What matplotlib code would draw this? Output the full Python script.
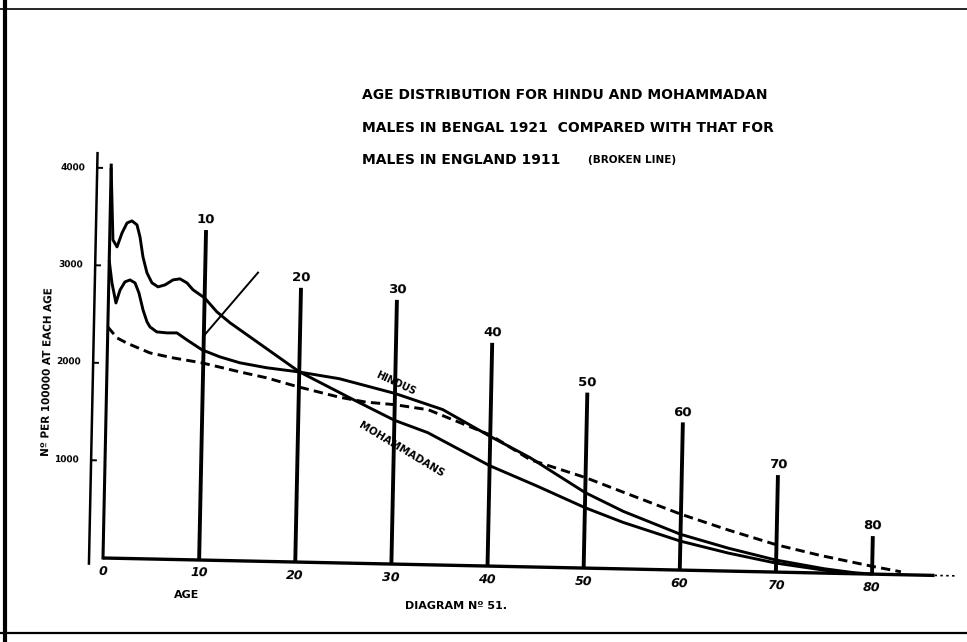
import matplotlib
matplotlib.use("Agg")
import matplotlib.pyplot as plt
from matplotlib.transforms import Affine2D
from matplotlib.lines import Line2D

# ---------------- data ----------------
moham_age = [0, 0.34, 0.78, 1.27, 1.77, 2.28, 2.81, 3.15, 3.5, 3.95, 4.49, 5.13, 5.86,
             6.68, 7.4, 8.13, 8.78, 10, 11.3, 12.7, 20, 25.3, 30, 33.5, 40, 45, 50, 54,
             60, 65, 70, 75, 78]
moham_val = [4000, 3264, 3193, 3337, 3441, 3463, 3423, 3300, 3096, 2933, 2832, 2792, 2814,
             2867, 2879, 2839, 2769, 2689, 2549, 2439, 1952, 1696, 1475, 1355, 1030, 830, 620, 477,
             297, 185, 92, 30, 8]

hindu_age = [0, 0.33, 0.79, 1.19, 1.68, 2.2, 2.73, 3.16, 3.62, 4.06, 4.38, 5.1, 6.17, 7.2,
             8.26, 9.84, 11.7, 13.8, 16.6, 19.8, 24.2, 30, 35, 40, 44.2, 50, 54, 60, 65, 70,
             75, 78, 80]
hindu_val = [3050, 2823, 2618, 2752, 2836, 2857, 2828, 2726, 2553, 2431, 2380, 2330, 2322, 2324,
             2254, 2156, 2088, 2031, 1986, 1952, 1889, 1750, 1595, 1330, 1120, 774, 590, 367, 235, 123,
             45, 12, 0]

england_age = [0, 0.98, 2.05, 4.44, 6.85, 9.87, 13.8, 16.6, 19.8, 24.2, 27, 30, 33.5, 40,
               44.2, 50, 54, 60, 65, 70, 74.5, 80, 83]
england_val = [2370, 2260, 2207, 2113, 2067, 2022, 1938, 1883, 1800, 1700, 1655, 1635, 1590, 1345,
               1100, 928, 785, 573, 420, 280, 182, 80, 30]

decade_ages = [10, 20, 30, 40, 50, 60, 70, 80]
decade_heights = [3385, 2813, 2710, 2290, 1800, 1515, 995, 390]
decade_labels = ["10", "20", "30", "40", "50", "60", "70", "80"]

xtick_ages = [0, 10, 20, 30, 40, 50, 60, 70, 80]
xtick_labels = ["0", "10", "20", "30", "40", "50", "60", "70", "80"]

ytick_vals = [1000, 2000, 3000, 4000]
ytick_labels = ["1000", "2000", "3000", "4000"]

pointer_age = [10, 15.5]
pointer_val = [2300, 2960]

title_lines = ["AGE DISTRIBUTION FOR HINDU AND MOHAMMADAN",
               "MALES IN BENGAL 1921  COMPARED WITH THAT FOR",
               "MALES IN ENGLAND 1911"]

# ---------------- figure / frame ----------------
W, H = 967, 642
fig = plt.figure(figsize=(W / 100, H / 100), dpi=100)
fig.patch.set_facecolor("white")
ax = fig.add_axes([0, 0, 1, 1])
ax.axis("off")

X0, Y0 = 103, 558          # pixel position of the origin in the picture
SX, SY = 9.615, 0.0975     # pixels per year, pixels per unit
ax.set_xlim(-X0 / SX, (W - X0) / SX)
ax.set_ylim((Y0 - H) / SY, Y0 / SY)

# the drawing is slightly tilted on the page
tilt = Affine2D().rotate_deg_around(X0, H - Y0, -1.2)
T = ax.transData + tilt

K = "black"
bold = dict(fontweight="bold", color=K, family="DejaVu Sans")

# curves
ax.plot(moham_age, moham_val, color=K, lw=2.1, transform=T,
        solid_joinstyle="round", solid_capstyle="round")
ax.plot(hindu_age, hindu_val, color=K, lw=2.1, transform=T,
        solid_joinstyle="round", solid_capstyle="round")
ax.plot(england_age, england_val, color=K, lw=2.1, transform=T,
        linestyle=(0, (3.2, 1.8)))

# base line and age-0 line
ax.plot([0, 86.5], [0, 0], color=K, lw=2.4, transform=T, solid_capstyle="butt")
ax.plot([86.5, 88.8], [0, 0], color=K, lw=1.2, transform=T, linestyle=(0, (1.5, 2)))
ax.plot([0, 0], [0, 4030], color=K, lw=2.2, transform=T)

# outer scale axis
ax.plot([-1.45, -1.45], [-60, 4150], color=K, lw=1.8, transform=T)
for v, lab in zip(ytick_vals, ytick_labels):
    ax.plot([-1.45, -0.95], [v, v], color=K, lw=1.4, transform=T)
    ax.text(-4.0, v, lab, ha="center", va="center", fontsize=6.5, transform=T,
            rotation=-1.2, **bold)

# decade verticals
for a, h, lab in zip(decade_ages, decade_heights, decade_labels):
    ax.plot([a, a], [0, h], color=K, lw=2.8, transform=T, solid_capstyle="butt")
    ax.text(a, h + 35, lab, ha="center", va="bottom", fontsize=9.5, transform=T,
            rotation=-1.2, **bold)

# age tick labels
for a, lab in zip(xtick_ages, xtick_labels):
    ax.text(a, -135, lab, ha="center", va="center", fontsize=9, transform=T,
            rotation=-1.2, fontstyle="italic", **bold)

# pointer line
ax.plot(pointer_age, pointer_val, color=K, lw=1.4, transform=T)

# curve labels
ax.text(30.1, 1850, "HINDUS", ha="center", va="center", fontsize=7, rotation=-25,
        transform=T, **bold)
ax.text(30.8, 1175, "MOHAMMADANS", ha="center", va="center", fontsize=7.5, rotation=-31,
        transform=T, **bold)

# axis titles
ax.text(8.75, -361, "AGE", ha="center", va="center", fontsize=8, transform=T, **bold)
ax.text(36.8, -413, "DIAGRAM Nº 51.", ha="center", va="center", fontsize=8,
        transform=T, **bold)
ax.text(-6.2, 1895, "Nº PER 100000 AT EACH AGE", ha="center", va="center",
        fontsize=7.5, rotation=88.8, transform=T, **bold)

# title block
for line, ypx in zip(title_lines, [95, 128, 160]):
    fig.text(362 / W, 1 - ypx / H, line, ha="left", va="center", fontsize=10, **bold)
fig.text(588 / W, 1 - 160 / H, "(BROKEN LINE)", ha="left", va="center", fontsize=7.5, **bold)

# page frame
for (x0, y0, x1, y1, lw) in [(5, 0, 5, 642, 3.0), (0, 633, 967, 633, 1.6), (0, 9, 967, 9, 1.2)]:
    fig.add_artist(Line2D([x0 / W, x1 / W], [1 - y0 / H, 1 - y1 / H], color=K, lw=lw,
                          transform=fig.transFigure))

fig.savefig("out.png", dpi=100, facecolor="white")
